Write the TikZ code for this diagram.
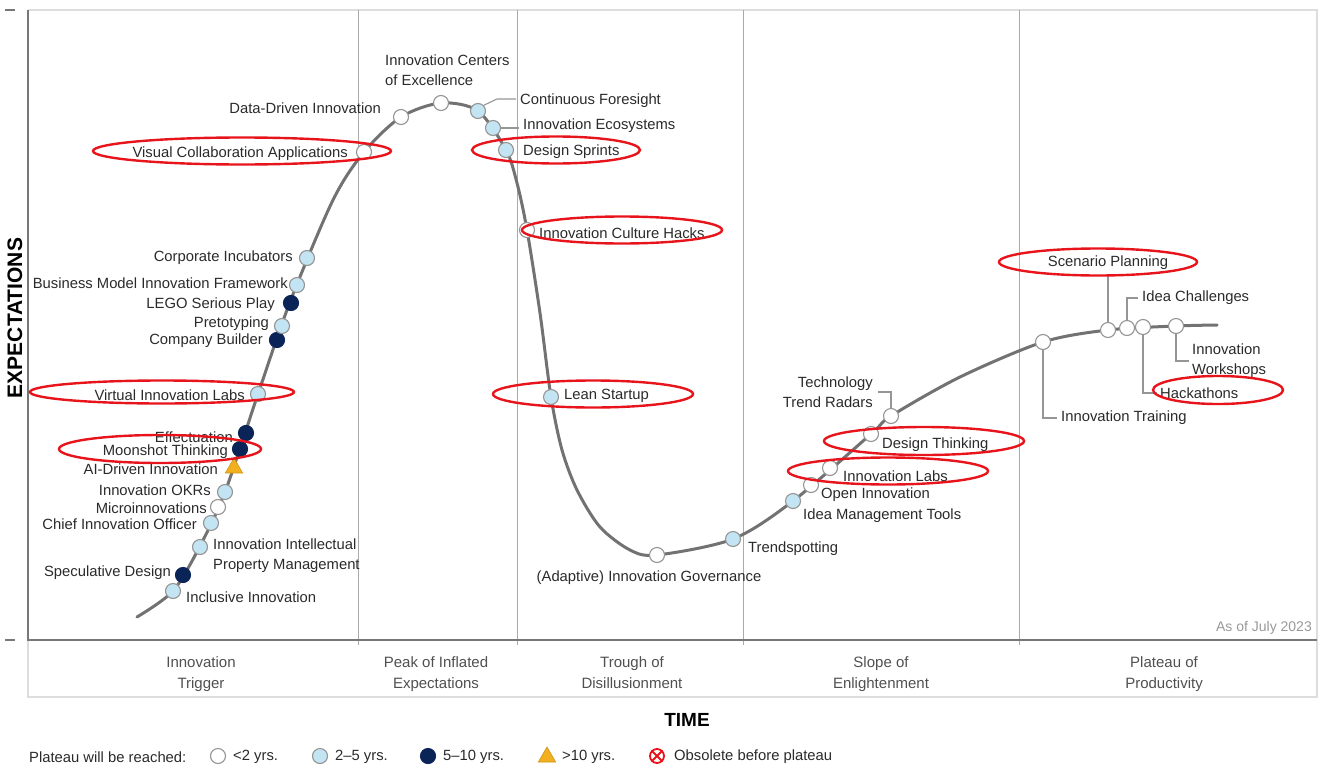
\documentclass[tikz,border=0pt]{standalone}
\usepackage{fontspec}
\setmainfont{Liberation Sans}
\usetikzlibrary{shapes.geometric}
\definecolor{curvec}{HTML}{727272}
\definecolor{txt}{HTML}{2A2A2A}
\definecolor{phtxt}{HTML}{505050}
\definecolor{lblue}{HTML}{C3E4F2}
\definecolor{dblue}{HTML}{0B2457}
\definecolor{amber}{HTML}{F2B01E}
\definecolor{mgray}{HTML}{959595}
\definecolor{hl}{HTML}{E8141B}
\definecolor{framec}{HTML}{DDDDDD}
\definecolor{axisc}{HTML}{777777}
\definecolor{sepc}{HTML}{AAAAAA}
\definecolor{datec}{HTML}{999999}
\newcommand{\labf}{\fontsize{14.8}{20}\selectfont}
\newcommand{\phf}{\fontsize{15}{21}\selectfont}
\begin{document}
\begin{tikzpicture}[x=1pt,y=-1pt,
  mk/.style={circle,minimum size=15pt,inner sep=0pt,draw=mgray,line width=1.1pt},
  lt2/.style={mk,fill=white},
  m25/.style={mk,fill=lblue},
  m510/.style={mk,fill=dblue,draw=dblue},
  m10/.style={regular polygon,regular polygon sides=3,minimum size=20pt,inner sep=0pt,fill=amber,draw=amber!85!black,line width=0.6pt},
  lab/.style={font=\labf,text=txt,inner sep=0pt},
  le/.style={lab,anchor=east},
  lw/.style={lab,anchor=west},
  lead/.style={draw=mgray,line width=1.1pt},
  hlel/.style={draw=hl,line width=2.4pt},
  phase/.style={font=\phf,text=phtxt,align=center,inner sep=0pt},
  curvestyle/.style={draw=curvec,line width=3pt,line cap=round}]
\useasboundingbox (0,0) rectangle (1319,779);
% frame
\draw[framec,line width=1.5pt] (28,10) -- (1317,10) -- (1317,697) -- (28,697) -- (28,640);
\draw[axisc,line width=1.2pt] (5,10) -- (15,10);
\draw[axisc,line width=1.2pt] (5,640) -- (15,640);
\foreach \sx in {358,517,743,1019} \draw[sepc,line width=1pt] (\sx,10) -- (\sx,645);
\draw[axisc,line width=2pt] (28,10) -- (28,640) -- (1317,640);
% phases
\node[phase] (p1) at (201,674) {\strut Innovation\\Trigger\strut};
\node[phase] (p2) at (436,674) {\strut Peak of Inflated\\Expectations\strut};
\node[phase] (p3) at (632,674) {\strut Trough of\\Disillusionment\strut};
\node[phase] (p4) at (881,674) {\strut Slope of\\Enlightenment\strut};
\node[phase] (p5) at (1164,674) {\strut Plateau of\\Productivity\strut};
\node[font=\fontsize{14}{14}\selectfont,text=datec,anchor=east,inner sep=0pt] (date) at (1312,628) {As of July 2023};
\node[font=\bfseries\fontsize{19}{19}\selectfont,text=black] (time) at (687,720) {TIME};
\node[font=\bfseries\fontsize{21}{21}\selectfont,text=black,rotate=90] (expect) at (15,318) {EXPECTATIONS};
% curve
\draw[curvestyle] plot[smooth,tension=0.5] coordinates {(137,617) (173,591) (200,546) (225,492) (258,394) (290,302) (333,200) (364,152) (401,117) (441,103) (478,111) (506,150) (517,183) (527,230) (540,313) (551,397) (562,450) (577,490) (600,527) (630,550) (657,555) (733,539) (793,501) (871,434) (891,416) (960,377) (1043,342) (1108,330) (1176,326) (1217,325)};
% markers
\node[m25] (ii) at (173,591) {};
\node[m510] (sd) at (183,575) {};
\node[m25] (iipm) at (200,547) {};
\node[m25] (cio) at (211,523) {};
\node[lt2] (mi) at (218,507) {};
\node[m25] (okr) at (225,492) {};
\node[m10] (ai) at (234,468) {};
\node[m510] (ms) at (240,449) {};
\node[m510] (ef) at (246,433) {};
\node[m25] (vil) at (258,394) {};
\node[m510] (cb) at (277,340) {};
\node[m25] (pt) at (282,326) {};
\node[m510] (lego) at (291,303) {};
\node[m25] (bm) at (297,285) {};
\node[m25] (ci) at (307,258) {};
\node[lt2] (vca) at (364,152) {};
\node[lt2] (ddi) at (401,117) {};
\node[lt2] (ice) at (441,103) {};
\node[m25] (cf) at (478,111) {};
\node[m25] (ie) at (493,128) {};
\node[m25] (ds) at (506,150) {};
\node[lt2] (ich) at (527,230) {};
\node[m25] (ls) at (551,397) {};
\node[lt2] (aig) at (657,555) {};
\node[m25] (tsp) at (733,539) {};
\node[m25] (imt) at (793,501) {};
\node[lt2] (oi) at (811,485) {};
\node[lt2] (il) at (830,468) {};
\node[lt2] (dt) at (871,434) {};
\node[lt2] (ttr) at (891,416) {};
\node[lt2] (it) at (1043,342) {};
\node[lt2] (spl) at (1108,330) {};
\node[lt2] (ic) at (1127,328) {};
\node[lt2] (hk) at (1143,327) {};
\node[lt2] (iw) at (1176,326) {};
% labels
\node[lw] (iit) at (186,597) {Inclusive Innovation};
\node[le] (sdt) at (171,573) {Speculative Design};
\node[lab,anchor=west,align=left] (iipmt) at (213,556) {Innovation Intellectual\\Property Management};
\node[le] (ciot) at (197,524) {Chief Innovation Officer};
\node[le] (mit) at (207,508) {Microinnovations};
\node[le] (okrt) at (211,490) {Innovation OKRs};
\node[le] (ait) at (218,469) {AI-Driven Innovation};
\node[le] (mst) at (228,452) {Moonshot Thinking};
\node[le] (eft) at (233,437) {Effectuation};
\node[le] (vilt) at (245,395) {Virtual Innovation Labs};
\node[le] (cbt) at (263,341) {Company Builder};
\node[le] (ptt) at (269,324) {Pretotyping};
\node[le] (legot) at (275,305) {LEGO Serious Play};
\node[le] (bmt) at (288,283) {Business Model Innovation Framework};
\node[le] (cit) at (293,258) {Corporate Incubators};
\node[le] (vcat) at (348,154) {Visual Collaboration Applications};
\node[le] (ddit) at (381,108) {Data-Driven Innovation};
\node[lab,anchor=west,align=left] (icet) at (385,70) {Innovation Centers\\of Excellence};
\node[lw] (cft) at (520,101) {Continuous Foresight};
\node[lw] (iet) at (523,126) {Innovation Ecosystems};
\node[lw] (dst) at (523,152) {Design Sprints};
\node[lw] (icht) at (539,233) {Innovation Culture Hacks};
\node[lw] (lst) at (564,396) {Lean Startup};
\node[lab] (aigt) at (649,578) {(Adaptive) Innovation Governance};
\node[lw] (tspt) at (748,549) {Trendspotting};
\node[lw] (imtt) at (803,516) {Idea Management Tools};
\node[lw] (oit) at (821,495) {Open Innovation};
\node[lw] (ilt) at (843,476) {Innovation Labs};
\node[lw] (dtt) at (882,445) {Design Thinking};
\node[lab,anchor=east,align=right] (ttrt) at (873,392) {Technology\\Trend Radars};
\node[lw] (itt) at (1061,418) {Innovation Training};
\node[lab] (splt) at (1108,263) {Scenario Planning};
\node[lw] (ict) at (1142,298) {Idea Challenges};
\node[lw] (hkt) at (1160,393) {Hackathons};
\node[lab,anchor=west,align=left] (iwt) at (1192,361) {Innovation\\Workshops};
% leaders
\coordinate (cfb) at (497,99);
\draw[lead] (cf.north east) -- (cfb) -- ([xshift=-4pt]cft.west |- cfb);
\draw[lead] (ie.east) -- ([xshift=-4pt]iet.west |- ie.east);
\draw[lead] (spl.north) -- ([yshift=-6pt]splt.south);
\draw[lead] (ic.north) |- ([xshift=-4pt]ict.west);
\draw[lead] (hk.south) |- ([xshift=-3pt]hkt.west);
\draw[lead] (iw.south) |- ([xshift=-3pt]iwt.west);
\draw[lead] (it.south) |- ([xshift=-4pt]itt.west);
\draw[lead] (ttr.north) |- ([xshift=5pt]ttrt.east);
% highlight ellipses
\draw[hlel] (242,151) ellipse [x radius=149pt, y radius=13.5pt];
\draw[hlel] (556,150) ellipse [x radius=84pt, y radius=13.5pt];
\draw[hlel] (622,230) ellipse [x radius=100pt, y radius=13.5pt];
\draw[hlel] (162,392) ellipse [x radius=132pt, y radius=11.5pt];
\draw[hlel] (160,449) ellipse [x radius=101pt, y radius=14pt];
\draw[hlel] (593,394) ellipse [x radius=100pt, y radius=13.5pt];
\draw[hlel] (1098,262) ellipse [x radius=99pt, y radius=13.5pt];
\draw[hlel] (1218,390) ellipse [x radius=65pt, y radius=14pt];
\draw[hlel] (924,441) ellipse [x radius=100pt, y radius=14pt];
\draw[hlel] (888,471) ellipse [x radius=100pt, y radius=13.5pt];
% legend
\node[lw] (legt) at (29,757) {Plateau will be reached:};
\node[lt2,minimum size=15pt] (l1) at (218,756) {};
\node[lw] (l1t) at (233,757) {<2 yrs.};
\node[m25,minimum size=15pt] (l2) at (320,756) {};
\node[lw] (l2t) at (335,757) {2–5 yrs.};
\node[m510,minimum size=15pt] (l3) at (428,756) {};
\node[lw] (l3t) at (443,757) {5–10 yrs.};
\node[m10,minimum size=20pt] (l4) at (547,757) {};
\node[lw] (l4t) at (562,757) {>10 yrs.};
\node[circle,draw=hl,line width=1.8pt,minimum size=14pt,inner sep=0pt] (l5) at (657,756) {};
\draw[hl,line width=1.8pt] (l5.45) -- (l5.225) (l5.135) -- (l5.315);
\node[lw] (l5t) at (674,757) {Obsolete before plateau};
\end{tikzpicture}
\end{document}
